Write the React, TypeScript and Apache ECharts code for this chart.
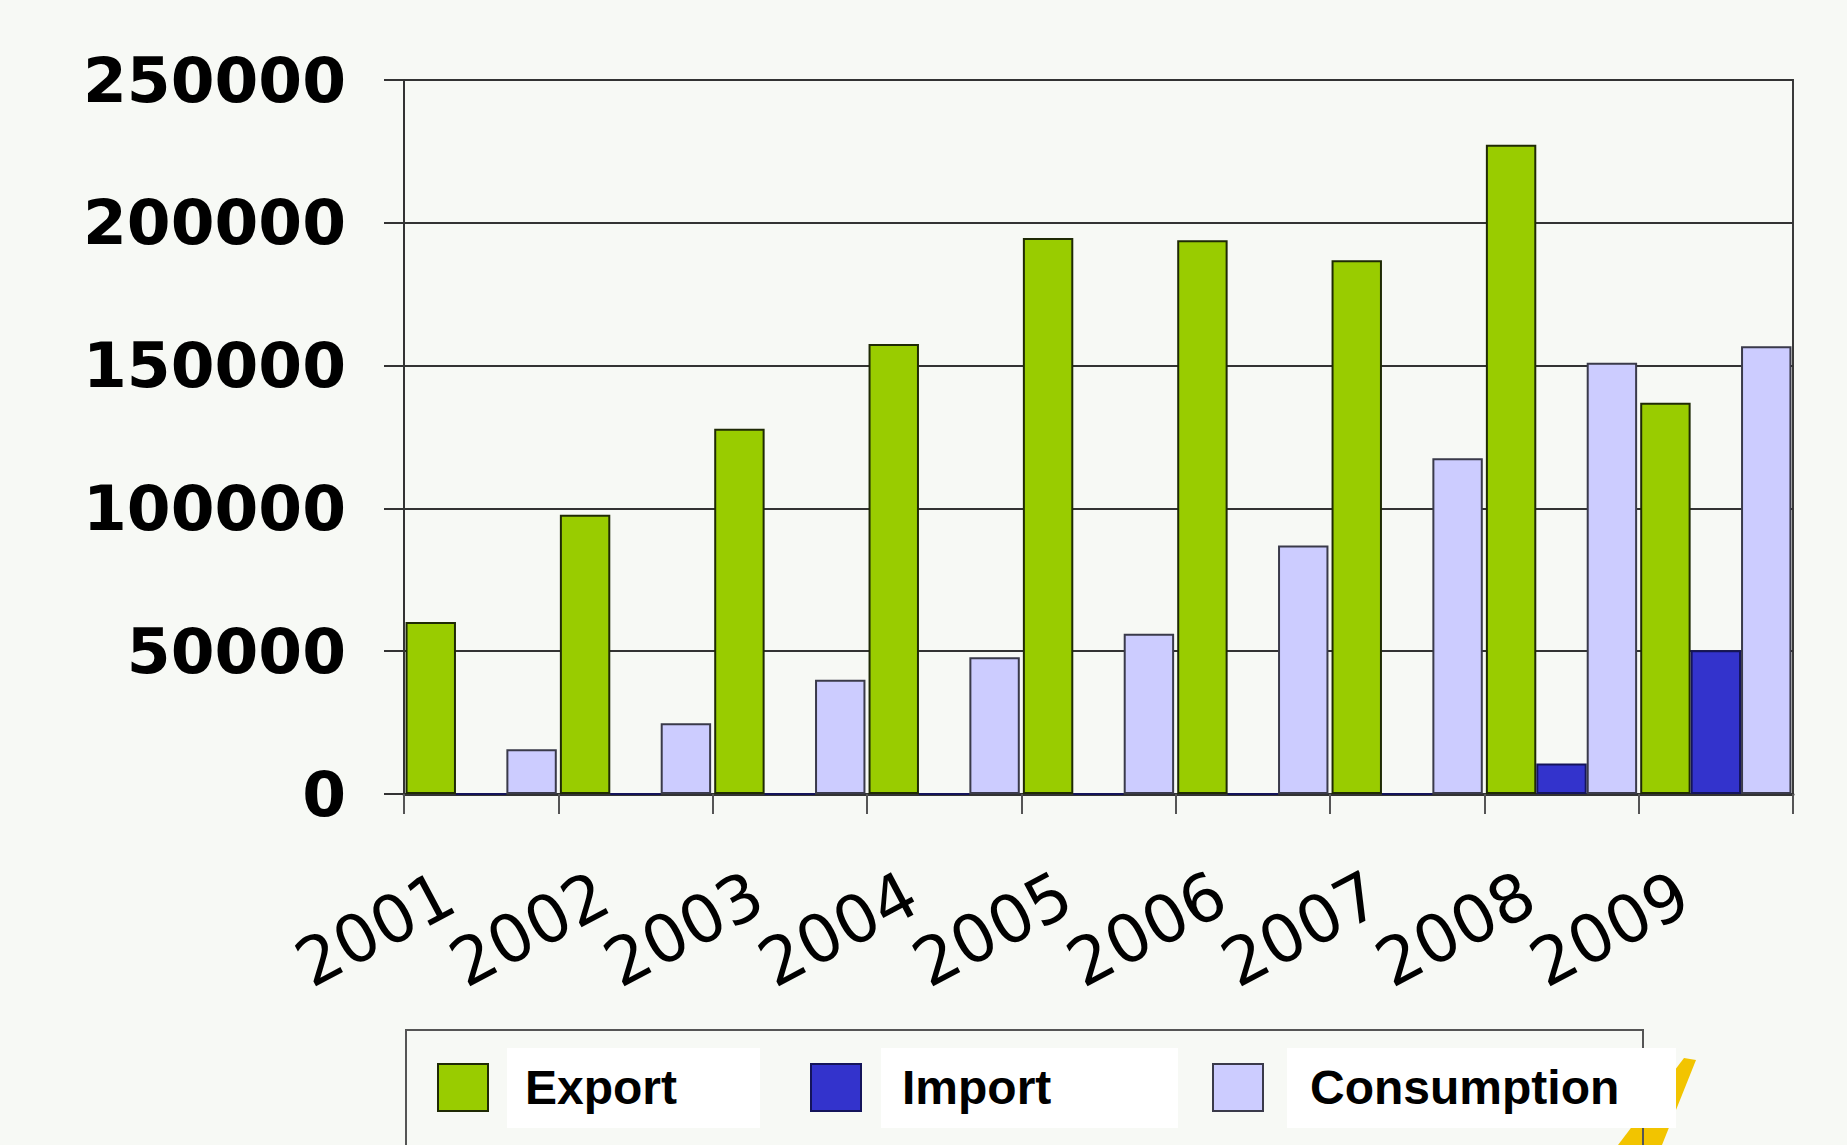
import React, { useEffect, useRef } from "react";
import * as echarts from "echarts";

const years = ["2001", "2002", "2003", "2004", "2005", "2006", "2007", "2008", "2009"];
const exportVals = [60200, 97800, 127900, 157600, 194700, 193900, 186900, 227300, 137000];
const importVals = [0, 0, 0, 0, 0, 0, 0, 10700, 50300];
const consumptionVals = [15700, 24800, 40000, 47900, 56100, 87000, 117600, 151000, 156800];
const yMin = 0;
const yMax = 250000;
const yStep = 50000;

const seriesNames = ["Export", "Import", "Consumption"];
const seriesColors = ["#99cc00", "#3333cc", "#ccccff"];
const seriesBorders = ["#1f2a05", "#14145a", "#3a3a4a"];

export default function App() {
  const ref = useRef<HTMLDivElement>(null);
  useEffect(() => {
    document.body.style.margin = "0";
    const chart = echarts.init(ref.current!, null, { renderer: "svg" });
    const dataSets = [exportVals, importVals, consumptionVals];
    const legendPos = [
      { left: 432, pad: 32 },
      { left: 805, pad: 36 },
      { left: 1207, pad: 42 },
    ];
    chart.setOption({
      animation: false,
      backgroundColor: "#f7f9f5",
      grid: {
        left: 404,
        right: 54,
        top: 80,
        bottom: 351,
        show: true,
        borderColor: "#3a3a3a",
        borderWidth: 2,
        backgroundColor: "transparent",
      },
      legend: legendPos.map((p, i) => ({
        data: [seriesNames[i]],
        left: p.left,
        top: 1058,
        itemWidth: 50,
        itemHeight: 47,
        icon: "rect",
        selectedMode: false,
        textStyle: {
          fontFamily: "Liberation Sans",
          fontWeight: "bold",
          fontSize: 48,
          color: "#000",
          padding: [0, 0, 0, p.pad],
        },
      })),
      xAxis: {
        type: "category",
        data: years,
        axisLine: { lineStyle: { color: "#333", width: 3 } },
        axisTick: { show: true, length: 20, lineStyle: { color: "#555", width: 2 } },
        axisLabel: {
          interval: 0,
          rotate: 28,
          margin: 79,
          formatter: (v: string) => `{a|${v}}{s|}`,
          rich: {
            a: {
              fontSize: 66,
              fontFamily: "DejaVu Sans",
              color: "#000",
            },
            s: { width: 36 },
          },
        },
      },
      yAxis: {
        type: "value",
        min: yMin,
        max: yMax,
        interval: yStep,
        axisLine: { show: true, lineStyle: { color: "#333", width: 2 } },
        axisTick: { show: true, length: 20, lineStyle: { color: "#333", width: 2 } },
        splitLine: { lineStyle: { color: "#333", width: 2 } },
        axisLabel: {
          margin: 58,
          fontSize: 63,
          fontFamily: "DejaVu Sans",
          fontWeight: "bold",
          color: "#000",
          formatter: (v: number) => String(v),
        },
      },
      series: seriesNames.map((name, i) => ({
        name,
        type: "bar",
        data: dataSets[i],
        barGap: "0%",
        barCategoryGap: "2%",
        itemStyle: {
          color: seriesColors[i],
          borderColor: seriesBorders[i],
          borderWidth: 2,
        },
      })),
      graphic: [
        {
          type: "polygon",
          z: 1,
          shape: { points: [[1684, 1058], [1696, 1060], [1662, 1145], [1618, 1145]] },
          style: { fill: "#f2c400" },
        },
        {
          type: "rect",
          z: 2,
          shape: { x: 406, y: 1030, width: 1237, height: 125 },
          style: { fill: "transparent", stroke: "#555", lineWidth: 2 },
        },
        { type: "rect", z: 3, shape: { x: 507, y: 1048, width: 253, height: 80 }, style: { fill: "#ffffff" } },
        { type: "rect", z: 3, shape: { x: 881, y: 1048, width: 297, height: 80 }, style: { fill: "#ffffff" } },
        { type: "rect", z: 3, shape: { x: 1287, y: 1048, width: 389, height: 80 }, style: { fill: "#ffffff" } },
      ],
    });
    return () => chart.dispose();
  }, []);
  return (
    <div
      ref={ref}
      style={{ position: "fixed", left: 0, top: 0, width: 1847, height: 1145 }}
    />
  );
}
